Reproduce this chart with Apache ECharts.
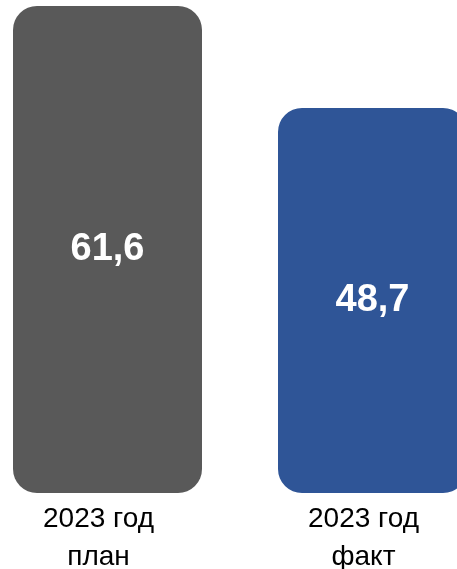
<!DOCTYPE html>
<html>
<head>
<meta charset="utf-8">
<script src="https://cdn.jsdelivr.net/npm/echarts@6/dist/echarts.min.js"></script>
<style>
  html, body { margin: 0; padding: 0; background: #ffffff; }
  #chart { width: 457px; height: 569px; }
</style>
</head>
<body>
<div id="chart"></div>
<script>
// Plan vs actual for 2023
const categories = ['2023 год\nплан', '2023 год\nфакт'];
const values = [61.6, 48.7];
const barColors = ['#595959', '#2F5597'];

const chart = echarts.init(document.getElementById('chart'), null, { renderer: 'canvas' });

chart.setOption({
  animation: false,
  backgroundColor: '#ffffff',
  grid: {
    left: -25, right: -48, top: 6, bottom: 76,
    containLabel: false,
    outerBoundsMode: 'none'
  },
  xAxis: {
    type: 'category',
    data: categories,
    axisLine: { show: false },
    axisTick: { show: false },
    axisLabel: {
      margin: 7,
      color: '#000000',
      fontFamily: '"Liberation Sans Narrow", "Arial Narrow", "Liberation Sans", sans-serif',
      fontSize: 28,
      lineHeight: 38,
      padding: [0, 18, 0, 0]
    }
  },
  yAxis: {
    type: 'value',
    min: 0,
    max: 61.6,
    show: false,
    splitLine: { show: false }
  },
  series: [{
    type: 'bar',
    barWidth: 189,
    data: values.map((v, i) => ({
      value: v,
      itemStyle: { color: barColors[i], borderRadius: 24 }
    })),
    label: {
      show: true,
      position: 'inside',
      color: '#ffffff',
      fontFamily: '"Liberation Sans", Arial, sans-serif',
      fontWeight: 'bold',
      fontSize: 38,
      formatter: p => String(p.value).replace('.', ',')
    }
  }]
});
</script>
</body>
</html>
